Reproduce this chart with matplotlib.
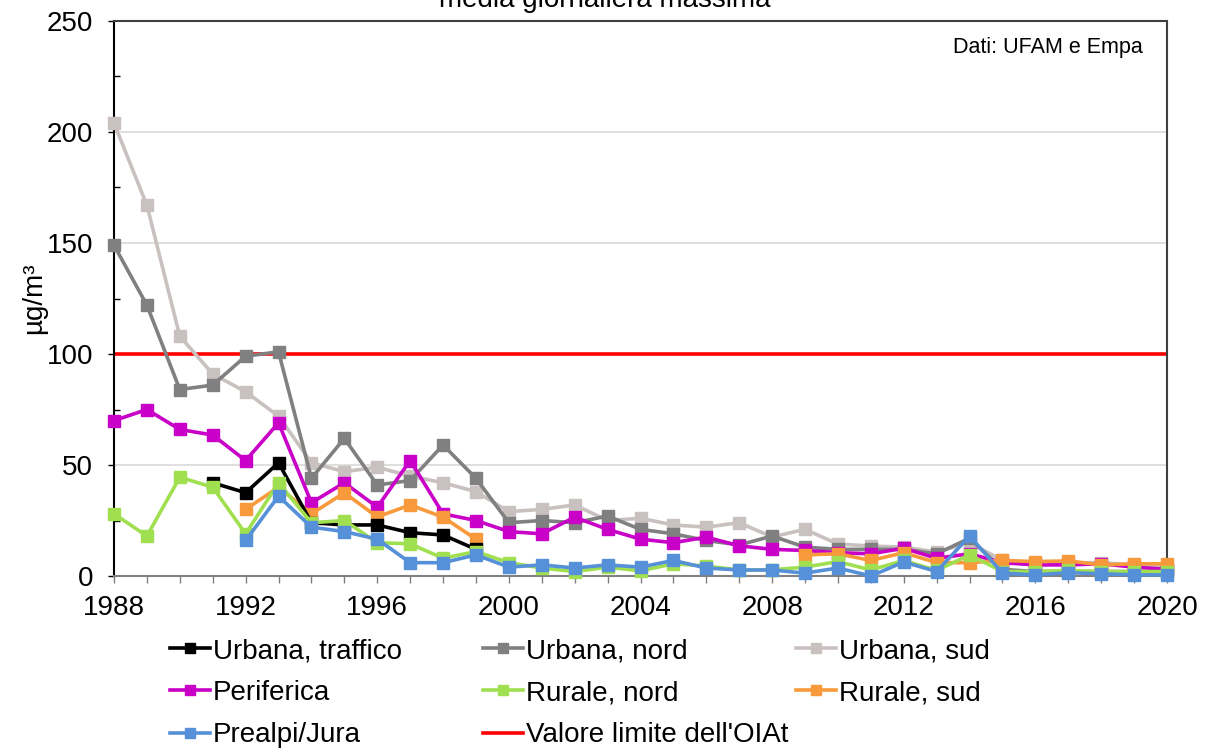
import matplotlib
matplotlib.use("Agg")
import matplotlib.pyplot as plt
from matplotlib.ticker import MultipleLocator
import numpy as np

plt.rcParams["font.family"] = ["Liberation Sans", "DejaVu Sans"]

years = list(range(1988, 2021))
nan = np.nan

urbana_traffico = [nan, nan, nan, 42, 37.5, 51, 24, 23, 23, 19.5, 18.5, 12] + [nan] * 21
urbana_nord = [149, 122, 84, 86, 99, 101, 44, 62, 41, 43, 59, 44, 24, 25, 24, 27, 21, 19,
               16, 14, 18, 13, 12, 12, 12, 10, 17, 3, 2, 2, 2, 2, 2]
urbana_sud = [204, 167, 108, 91, 83, 72, 51, 47, 49, 45, 42, 38, 29, 30, 32, 25, 26, 23,
              22, 24, 17.6, 21, 14.4, 13.5, 13, 10.8, 15, 7, 6, 6, 6, 5, 4]
periferica = [70, 75, 66, 63.5, 52, 69, 33, 42, 31, 52, 28, 25, 20, 19, 26.5, 21, 16.6, 15,
              17.5, 13.6, 12, 11.5, 10.5, 10, 12.5, 8, 10, 6, 5, 5, 5.5, 4, 3]
rurale_nord = [28, 18, 44.5, 40, 19, 42, 24, 25, 15, 14.5, 8, 11, 6, 3.6, 2, 4, 2.3, 5.5,
               4.5, 2.7, 2.8, 4, 6.5, 2.7, 7, 2.5, 9.5, 2, 2, 2.5, 2, 2, 2]
rurale_sud = [nan, nan, nan, nan, 30, 40, 28, 37.5, 26.6, 32, 26.5, 16.6] + [nan] * 9 + \
             [9.5, 10, 7, 10.5, 6, 6, 7, 6.5, 6.8, 5, 5.5, 5.5]
prealpi_jura = [nan, nan, nan, nan, 16, 36, 22, 20, 16.6, 6, 6, 9.5, 4, 5, 3.6, 5, 4, 7,
                3.6, 2.7, 2.7, 1.3, 3.6, 0, 6.3, 2, 18, 1.3, 0.5, 1.5, 1, 0.5, 0.5]
limit_value = 100

series = [
    ("Urbana, traffico", urbana_traffico, "#000000"),
    ("Urbana, nord", urbana_nord, "#808080"),
    ("Urbana, sud", urbana_sud, "#c9c1bf"),
    ("Periferica", periferica, "#c800c8"),
    ("Rurale, nord", rurale_nord, "#a0e050"),
    ("Rurale, sud", rurale_sud, "#f89a3c"),
    ("Prealpi/Jura", prealpi_jura, "#5590d8"),
]

fig = plt.figure(figsize=(12.14, 7.53), dpi=100)
ax = fig.add_axes([114 / 1214, 1 - 576 / 753, (1167 - 114) / 1214, (576 - 21) / 753])

ax.set_xlim(1988, 2020)
ax.set_ylim(0, 250)
ax.yaxis.set_major_locator(MultipleLocator(50))
ax.yaxis.set_minor_locator(MultipleLocator(25))
ax.xaxis.set_major_locator(MultipleLocator(4))
ax.xaxis.set_minor_locator(MultipleLocator(1))
ax.grid(axis="y", which="major", color="#d9d9d9", lw=1.2, zorder=0)

handles = {}
order = ["Urbana, sud", "Urbana, nord", "Periferica", "Rurale, sud", "Urbana, traffico",
         "Rurale, nord", "Prealpi/Jura"]
zo = {name: 3 + i for i, name in enumerate(order)}
for name, vals, col in series:
    h, = ax.plot(years, vals, color=col, lw=2.6, marker="s", ms=8, mec=col, mfc=col,
                 zorder=zo[name], clip_on=False, label=name)
    handles[name] = h
hl = ax.axhline(limit_value, color="#ff0000", lw=2.6, zorder=2,
                label="Valore limite dell'OIAt")
handles["Valore limite dell'OIAt"] = hl

ax.tick_params(axis="y", which="major", direction="out", length=4, width=1,
               labelsize=20, color="#000000", pad=11)
ax.tick_params(axis="y", which="minor", direction="in", length=4, width=1, color="#000000")
ax.tick_params(axis="x", which="both", direction="out", length=5, width=1,
               labelsize=20, color="#808080", pad=9)
ax.spines["left"].set_color("#000000")
ax.spines["bottom"].set_color("#808080")
ax.spines["right"].set_color("#404040")
ax.spines["top"].set_color("#404040")
for s in ax.spines.values():
    s.set_linewidth(1.5)

ax.set_ylabel("µg/m³", fontsize=20, labelpad=0)
ax.text(0.977, 0.972, "Dati: UFAM e Empa", transform=ax.transAxes, ha="right",
        va="top", fontsize=15.5)
fig.text(605 / 1214, 1.0, "media giornaliera massima", ha="center", va="center",
         fontsize=20)

columns = [
    (["Urbana, traffico", "Periferica", "Prealpi/Jura"], 170),
    (["Urbana, nord", "Rurale, nord", "Valore limite dell'OIAt"], 483),
    (["Urbana, sud", "Rurale, sud"], 796),
]
for names, x0 in columns:
    leg = fig.legend([handles[n] for n in names], names, loc="upper left",
                     bbox_to_anchor=(x0 / 1214, 1 - 638 / 753), frameon=False,
                     fontsize=20, handlelength=1.45, handletextpad=0.1,
                     labelspacing=0.58, borderaxespad=0, borderpad=0)
    for h in leg.legend_handles:
        h.set_markersize(7)

fig.savefig("out.png", dpi=100)
